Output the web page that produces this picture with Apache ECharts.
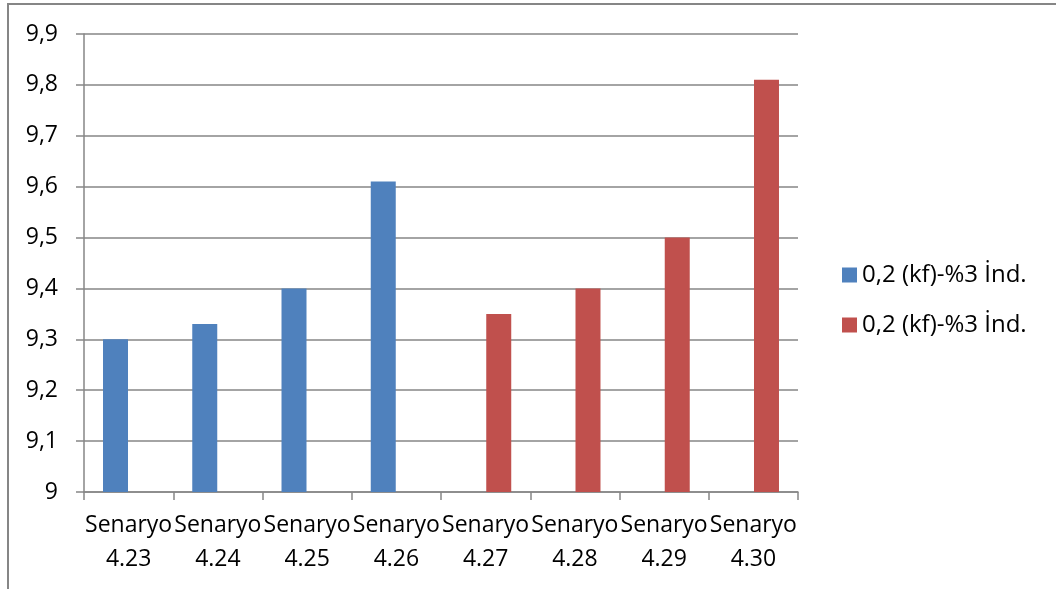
<!DOCTYPE html>
<html>
<head>
<meta charset="utf-8">
<script src="https://cdn.jsdelivr.net/npm/echarts@6/dist/echarts.min.js"></script>
<style>
  html, body { margin: 0; padding: 0; background: #fff; }
  #chart { width: 1056px; height: 589px; }
</style>
</head>
<body>
<div id="chart"></div>
<script>
// Scenario categories and the two bar series
const categories = ['4.23', '4.24', '4.25', '4.26', '4.27', '4.28', '4.29', '4.30'];
const blueValues = [9.30, 9.33, 9.40, 9.61, '-', '-', '-', '-'];
const redValues = ['-', '-', '-', '-', 9.35, 9.40, 9.50, 9.81];
const legendLabels = ['0,2 (kf)-%3 İnd.', '0,2 (kf)-%3 İnd.'];
const seriesKeys = ['serA', 'serB'];
const yTicks = { min: 9, max: 9.9, step: 0.1 };

const FONT = '"Open Sans", sans-serif';
const GRID_GRAY = '#868686';

const chart = echarts.init(document.getElementById('chart'), null, { renderer: 'canvas' });

chart.setOption({
  animation: false,
  backgroundColor: '#fff',
  textStyle: { fontFamily: FONT },
  graphic: [{
    type: 'rect',
    silent: true,
    shape: { x: 8, y: 4, width: 1200, height: 1200 },
    style: { fill: 'none', stroke: GRID_GRAY, lineWidth: 2 }
  }],
  grid: { left: 84, top: 34, right: 258, bottom: 97, containLabel: false },
  legend: {
    orient: 'vertical',
    left: 842,
    top: 263,
    padding: 0,
    icon: 'rect',
    itemWidth: 15,
    itemHeight: 15,
    itemGap: 26,
    itemTextGap: 6,
    data: seriesKeys,
    formatter: name => legendLabels[seriesKeys.indexOf(name)],
    textStyle: { fontFamily: FONT, fontSize: 24, lineHeight: 23, color: '#000' }
  },
  xAxis: {
    type: 'category',
    data: categories,
    boundaryGap: true,
    axisLine: { lineStyle: { color: GRID_GRAY, width: 1.5 } },
    axisTick: { show: true, length: 8, lineStyle: { color: GRID_GRAY, width: 1.5 } },
    axisLabel: {
      interval: 0,
      margin: 16,
      fontFamily: FONT,
      fontSize: 23,
      lineHeight: 34,
      color: '#000',
      formatter: v => 'Senaryo\n' + v
    },
    splitLine: { show: false }
  },
  yAxis: {
    type: 'value',
    min: yTicks.min,
    max: yTicks.max,
    interval: yTicks.step,
    axisLine: { show: true, lineStyle: { color: GRID_GRAY, width: 1.5 } },
    axisTick: { show: true, length: 8, lineStyle: { color: GRID_GRAY, width: 1.5 } },
    axisLabel: {
      margin: 26,
      fontFamily: FONT,
      fontSize: 23,
      color: '#000',
      formatter: v => String(Math.round(v * 10) / 10).replace('.', ',')
    },
    splitLine: { show: true, lineStyle: { color: GRID_GRAY, width: 1.5 } }
  },
  series: [
    {
      name: seriesKeys[0],
      type: 'bar',
      data: blueValues,
      barWidth: '28%',
      barGap: '5%',
      itemStyle: { color: '#4F81BD' }
    },
    {
      name: seriesKeys[1],
      type: 'bar',
      data: redValues,
      barWidth: '28%',
      barGap: '5%',
      itemStyle: { color: '#C0504D' }
    }
  ]
});
</script>
</body>
</html>
